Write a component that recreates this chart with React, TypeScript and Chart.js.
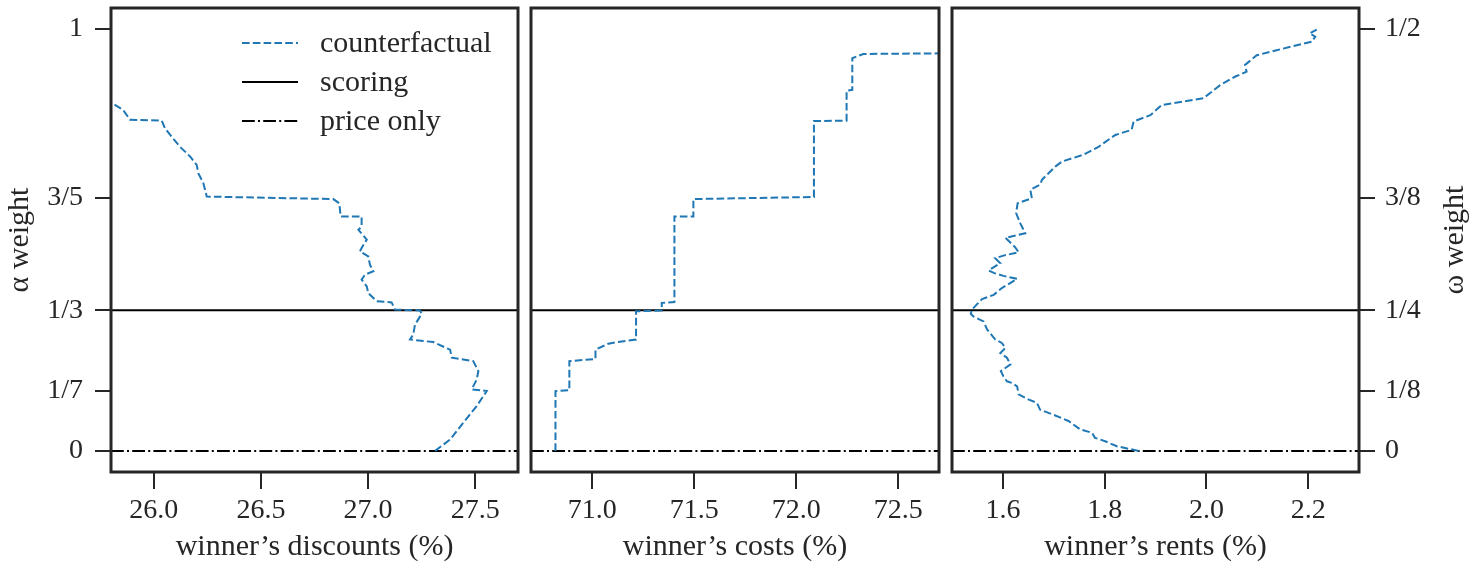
import React, { useEffect, useRef } from 'react';
import { Chart, registerables } from 'chart.js';

Chart.register(...registerables);

// ---------- data ----------
const alphaTicks = [0, 1 / 7, 1 / 3, 3 / 5, 1];
const alphaTickLabels = ['0', '1/7', '1/3', '3/5', '1'];
const omegaTickLabels = ['0', '1/8', '1/4', '3/8', '1/2'];

const scoringAlpha = 1 / 3;
const priceOnlyAlpha = 0;

const discountAlpha = [0, 0.027, 0.067, 0.106, 0.142, 0.146, 0.169, 0.189, 0.213, 0.221, 0.24, 0.258, 0.264, 0.276, 0.299, 0.325, 0.333, 0.335, 0.352, 0.355, 0.374, 0.39, 0.406, 0.418, 0.426, 0.441, 0.461, 0.473, 0.481, 0.501, 0.524, 0.532, 0.556, 0.556, 0.587, 0.597, 0.603, 0.635, 0.658, 0.678, 0.698, 0.721, 0.745, 0.765, 0.783, 0.785, 0.808, 0.826];
const discountValues = [27.313, 27.383, 27.445, 27.507, 27.554, 27.484, 27.507, 27.515, 27.491, 27.391, 27.383, 27.305, 27.196, 27.211, 27.219, 27.25, 27.243, 27.126, 27.11, 27.04, 27.001, 26.994, 26.97, 26.986, 27.025, 27.009, 27.001, 26.962, 26.97, 26.994, 26.955, 26.97, 26.97, 26.872, 26.866, 26.838, 26.247, 26.231, 26.208, 26.2, 26.169, 26.122, 26.083, 26.052, 26.037, 25.889, 25.857, 25.8];

const costAlpha = [0, 0.1416, 0.144, 0.2126, 0.218, 0.24, 0.254, 0.258, 0.264, 0.331, 0.333, 0.351, 0.353, 0.556, 0.556, 0.597, 0.602, 0.782, 0.783, 0.854, 0.856, 0.931, 0.941, 0.9425];
const costValues = [70.82, 70.82, 70.888, 70.888, 71.016, 71.016, 71.079, 71.12, 71.215, 71.215, 71.341, 71.341, 71.403, 71.403, 71.496, 71.496, 72.087, 72.087, 72.247, 72.247, 72.275, 72.275, 72.329, 72.7];

const rentAlpha = [0, 0.011, 0.023, 0.031, 0.043, 0.051, 0.071, 0.084, 0.098, 0.114, 0.122, 0.134, 0.153, 0.161, 0.165, 0.177, 0.189, 0.205, 0.221, 0.232, 0.244, 0.256, 0.264, 0.288, 0.307, 0.319, 0.325, 0.335, 0.36, 0.37, 0.386, 0.408, 0.415, 0.422, 0.428, 0.445, 0.457, 0.463, 0.471, 0.483, 0.505, 0.516, 0.54, 0.564, 0.587, 0.599, 0.619, 0.631, 0.643, 0.674, 0.686, 0.702, 0.721, 0.749, 0.761, 0.781, 0.796, 0.82, 0.836, 0.867, 0.887, 0.899, 0.915, 0.938, 0.95, 0.97, 0.982, 0.99, 0.999];
const rentValues = [1.867, 1.824, 1.801, 1.781, 1.775, 1.752, 1.729, 1.703, 1.673, 1.667, 1.65, 1.631, 1.628, 1.618, 1.608, 1.601, 1.596, 1.615, 1.608, 1.595, 1.605, 1.598, 1.585, 1.569, 1.562, 1.542, 1.537, 1.539, 1.559, 1.582, 1.598, 1.628, 1.601, 1.582, 1.572, 1.595, 1.585, 1.601, 1.631, 1.624, 1.605, 1.644, 1.634, 1.626, 1.629, 1.657, 1.654, 1.673, 1.677, 1.703, 1.716, 1.758, 1.788, 1.821, 1.853, 1.857, 1.89, 1.912, 1.994, 2.027, 2.056, 2.079, 2.076, 2.099, 2.138, 2.207, 2.214, 2.203, 2.217];

const discountRange = [25.8, 27.7];
const costRange = [70.7, 72.7];
const rentRange = [1.5, 2.3];
const discountTicks = [26.0, 26.5, 27.0, 27.5];
const costTicks = [71.0, 71.5, 72.0, 72.5];
const rentTicks = [1.6, 1.8, 2.0, 2.2];
const alphaRange = [-0.05, 1.05];

const seriesLabels = ['counterfactual', 'scoring', 'price only'];

// ---------- style ----------
const FONT = '"Liberation Serif", "Times New Roman", serif';
const TEXT = '#262626';
const BLUE = '#1f77b4';
const H = 565;

type YMode = 'left' | 'none' | 'right';
type Panel = {
  left: number;
  width: number;
  padLeft: number;
  padRight: number;
  yMode: YMode;
  xTitle: string;
  xRange: number[];
  xTicks: number[];
  alphas: number[];
  values: number[];
  legend: boolean;
};

const panels: Panel[] = [
  { left: 0, width: 524, padLeft: 0, padRight: 6, yMode: 'left', xTitle: 'winner\u2019s discounts (%)', xRange: discountRange, xTicks: discountTicks, alphas: discountAlpha, values: discountValues, legend: true },
  { left: 524, width: 420, padLeft: 7, padRight: 5, yMode: 'none', xTitle: 'winner\u2019s costs (%)', xRange: costRange, xTicks: costTicks, alphas: costAlpha, values: costValues, legend: false },
  { left: 944, width: 535, padLeft: 8, padRight: 0, yMode: 'right', xTitle: 'winner\u2019s rents (%)', xRange: rentRange, xTicks: rentTicks, alphas: rentAlpha, values: rentValues, legend: false },
];

const framePlugin = {
  id: 'frame',
  afterDatasetsDraw(chart: any) {
    const { ctx, chartArea } = chart;
    const { left, top, right, bottom } = chartArea;
    ctx.save();
    ctx.strokeStyle = TEXT;
    ctx.lineWidth = 3;
    ctx.strokeRect(left, top, right - left, bottom - top);
    ctx.restore();
  },
};

const legendPlugin = {
  id: 'customLegend',
  afterDraw(chart: any, _args: any, opts: any) {
    if (!opts || !opts.show) return;
    const { ctx } = chart;
    const rows = [43, 82, 121];
    ctx.save();
    chart.data.datasets.forEach((ds: any, i: number) => {
      const y = rows[i];
      ctx.beginPath();
      ctx.setLineDash(ds.borderDash || []);
      ctx.strokeStyle = ds.borderColor;
      ctx.lineWidth = ds.borderWidth;
      ctx.moveTo(242, y);
      ctx.lineTo(298, y);
      ctx.stroke();
      ctx.setLineDash([]);
      ctx.fillStyle = TEXT;
      ctx.font = `30px ${FONT}`;
      ctx.textAlign = 'left';
      ctx.textBaseline = 'middle';
      ctx.fillText(ds.label, 320, y + 1);
    });
    ctx.restore();
  },
};

const rightTitlePlugin = {
  id: 'rightTitle',
  afterDraw(chart: any, _args: any, opts: any) {
    if (!opts || !opts.text) return;
    const { ctx } = chart;
    ctx.save();
    ctx.translate(opts.x, opts.y);
    ctx.rotate(-Math.PI / 2);
    ctx.fillStyle = TEXT;
    ctx.font = `30px ${FONT}`;
    ctx.textAlign = 'center';
    ctx.textBaseline = 'alphabetic';
    ctx.fillText(opts.text, 0, 0);
    ctx.restore();
  },
};

function makeConfig(p: Panel): any {
  const curve = p.alphas.map((a, i) => ({ x: p.values[i], y: a }));
  const scoring = p.xRange.map((x) => ({ x, y: scoringAlpha }));
  const priceOnly = p.xRange.map((x) => ({ x, y: priceOnlyAlpha }));

  const yScale: any = {
    type: 'linear',
    min: alphaRange[0],
    max: alphaRange[1],
    display: p.yMode !== 'none',
    position: p.yMode === 'right' ? 'right' : 'left',
    afterBuildTicks: (s: any) => {
      s.ticks = alphaTicks.map((v) => ({ value: v }));
    },
    afterFit: (s: any) => {
      if (p.yMode === 'left') s.width = 111;
      if (p.yMode === 'right') s.width = p.width - 415;
      s.paddingTop = 0;
      s.paddingBottom = 0;
      s.paddingLeft = 0;
      s.paddingRight = 0;
    },
    ticks: {
      callback: (_v: any, i: number) => (p.yMode === 'right' ? omegaTickLabels[i] : alphaTickLabels[i]),
      font: { family: FONT, size: 28, lineHeight: 1 },
      color: TEXT,
      padding: p.yMode === 'right' ? 10 : 12,
      autoSkip: false,
    },
    grid: { drawOnChartArea: false, drawTicks: true, tickLength: 16, lineWidth: 2, color: TEXT },
    border: { display: false },
    title: {
      display: p.yMode === 'left',
      text: '\u03b1 weight',
      font: { family: FONT, size: 30, lineHeight: 1 },
      color: TEXT,
      padding: { top: 5, bottom: 0 },
    },
  };

  return {
    type: 'scatter',
    data: {
      datasets: [
        { label: seriesLabels[0], data: curve, showLine: true, borderColor: BLUE, backgroundColor: BLUE, borderWidth: 2, borderDash: [7.6, 3.2], pointRadius: 0, pointHoverRadius: 0, tension: 0 },
        { label: seriesLabels[1], data: scoring, showLine: true, borderColor: '#000', backgroundColor: '#000', borderWidth: 2, borderDash: [], pointRadius: 0, pointHoverRadius: 0 },
        { label: seriesLabels[2], data: priceOnly, showLine: true, borderColor: '#000', backgroundColor: '#000', borderWidth: 2, borderDash: [12.8, 3.2, 2, 3.2], pointRadius: 0, pointHoverRadius: 0 },
      ],
    },
    options: {
      responsive: false,
      maintainAspectRatio: false,
      animation: false,
      devicePixelRatio: 1,
      events: [],
      layout: { padding: { left: p.padLeft, right: p.padRight, top: 8, bottom: 0 } },
      plugins: {
        legend: { display: false },
        tooltip: { enabled: false },
        customLegend: { show: p.legend },
        rightTitle: p.yMode === 'right' ? { text: '\u03c9 weight', x: 1463 - p.left, y: 240 } : { text: '' },
      },
      scales: {
        x: {
          type: 'linear',
          min: p.xRange[0],
          max: p.xRange[1],
          afterBuildTicks: (s: any) => {
            s.ticks = p.xTicks.map((v) => ({ value: v }));
          },
          afterFit: (s: any) => {
            s.height = H - 472;
            s.paddingTop = 0;
            s.paddingBottom = 0;
            s.paddingLeft = 0;
            s.paddingRight = 0;
          },
          ticks: {
            callback: (v: any) => Number(v).toFixed(1),
            font: { family: FONT, size: 28, lineHeight: 1 },
            color: TEXT,
            padding: 8,
            maxRotation: 0,
            autoSkip: false,
          },
          grid: { drawOnChartArea: false, drawTicks: true, tickLength: 17, lineWidth: 2, color: TEXT },
          border: { display: false },
          title: {
            display: true,
            text: p.xTitle,
            font: { family: FONT, size: 30, lineHeight: 1 },
            color: TEXT,
            padding: { top: 0, bottom: 3 },
          },
        },
        y: yScale,
      },
    },
    plugins: [framePlugin, legendPlugin, rightTitlePlugin],
  };
}

export default function App() {
  const refs = [useRef<HTMLCanvasElement>(null), useRef<HTMLCanvasElement>(null), useRef<HTMLCanvasElement>(null)];

  useEffect(() => {
    const charts: Chart[] = [];
    panels.forEach((p, i) => {
      const c = refs[i].current;
      if (c) charts.push(new Chart(c, makeConfig(p)));
    });
    return () => charts.forEach((c) => c.destroy());
  }, []);

  return (
    <div style={{ position: 'absolute', left: 0, top: 0, width: 1479, height: H, background: '#fff', overflow: 'hidden' }}>
      {panels.map((p, i) => (
        <canvas
          key={i}
          ref={refs[i]}
          width={p.width}
          height={H}
          style={{ position: 'absolute', left: p.left, top: 0, width: p.width, height: H }}
        />
      ))}
    </div>
  );
}
